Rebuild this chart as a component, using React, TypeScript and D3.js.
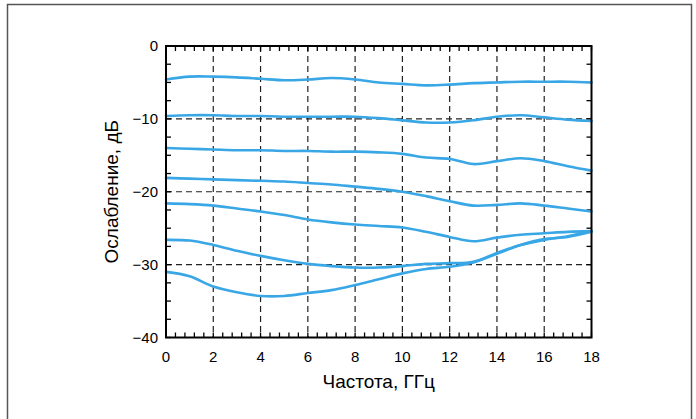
import React from "react";
import * as d3 from "d3";

const freqs = [0, 1, 2, 3, 4, 5, 6, 7, 8, 9, 10, 11, 12, 13, 14, 15, 16, 17, 18];
const curve1 = [-4.6, -4.2, -4.2, -4.3, -4.5, -4.7, -4.6, -4.4, -4.6, -5.0, -5.2, -5.4, -5.3, -5.1, -5.0, -4.9, -4.9, -4.9, -5.0];
const curve2 = [-9.6, -9.5, -9.5, -9.6, -9.6, -9.7, -9.7, -9.7, -9.7, -9.9, -10.2, -10.5, -10.5, -10.2, -9.7, -9.5, -9.8, -10.1, -10.3];
const curve3 = [-14.0, -14.1, -14.2, -14.3, -14.3, -14.4, -14.4, -14.5, -14.5, -14.6, -14.8, -15.3, -15.5, -16.2, -15.8, -15.4, -15.8, -16.5, -17.1];
const curve4 = [-18.1, -18.2, -18.3, -18.4, -18.5, -18.6, -18.8, -19.0, -19.3, -19.6, -20.0, -20.6, -21.3, -21.9, -21.8, -21.6, -21.9, -22.3, -22.7];
const curve5 = [-21.6, -21.7, -21.9, -22.3, -22.7, -23.2, -23.8, -24.2, -24.5, -24.7, -24.9, -25.5, -26.2, -26.8, -26.3, -25.9, -25.7, -25.5, -25.4];
const curve6 = [-26.6, -26.7, -27.3, -28.1, -28.8, -29.4, -29.9, -30.2, -30.4, -30.4, -30.2, -29.9, -29.8, -29.6, -28.4, -27.3, -26.6, -26.1, -25.4];
const curve7 = [-31.0, -31.6, -33.0, -33.8, -34.3, -34.3, -33.9, -33.5, -32.8, -32.0, -31.2, -30.6, -30.3, -29.7, -28.5, -27.3, -26.5, -26.2, -25.5];
const seriesList = [curve1, curve2, curve3, curve4, curve5, curve6, curve7];

const xTickLabels = [0, 2, 4, 6, 8, 10, 12, 14, 16, 18];
const yTickLabels = [0, -10, -20, -30, -40];
const xGrid = [2, 4, 6, 8, 10, 12, 14, 16];
const yGrid = [-10, -20, -30];

export default function App() {
  const W = 696, H = 419;
  const left = 166, right = 591.5, top = 46, bottom = 337.5;
  const x = d3.scaleLinear().domain([0, 18]).range([left, right]);
  const y = d3.scaleLinear().domain([0, -40]).range([top, bottom]);
  const line = d3
    .line<number>()
    .x((_, i) => x(freqs[i]))
    .y((d) => y(d))
    .curve(d3.curveCatmullRom.alpha(0.5));

  const xMinor = d3.range(0, 18.001, 0.4).map((v) => Math.round(v * 10) / 10);
  const yMinor = d3.range(0, -40.001, -2.5);
  const tl = 5;
  const font = "Liberation Sans, Arial, sans-serif";

  return (
    <svg width={W} height={H} style={{ position: "absolute", left: 0, top: 0 }}>
      <rect x={0} y={0} width={W} height={H} fill="white" />
      <rect x={7.5} y={4.5} width={684} height={440} fill="none" stroke="#555" strokeWidth={1.5} />
      {xGrid.map((v) => (
        <line key={"gx" + v} x1={x(v)} x2={x(v)} y1={top} y2={bottom} stroke="#222" strokeWidth={1.2} strokeDasharray="6,4" />
      ))}
      {yGrid.map((v) => (
        <line key={"gy" + v} x1={left} x2={right} y1={y(v)} y2={y(v)} stroke="#222" strokeWidth={1.2} strokeDasharray="6,4" />
      ))}
      {xMinor.map((v, i) => (
        <g key={"xm" + i}>
          <line x1={x(v)} x2={x(v)} y1={top} y2={top + tl} stroke="#000" strokeWidth={1.3} />
          <line x1={x(v)} x2={x(v)} y1={bottom} y2={bottom - tl} stroke="#000" strokeWidth={1.3} />
        </g>
      ))}
      {yMinor.map((v, i) => (
        <g key={"ym" + i}>
          <line x1={left} x2={left + tl} y1={y(v)} y2={y(v)} stroke="#000" strokeWidth={1.3} />
          <line x1={right} x2={right - tl} y1={y(v)} y2={y(v)} stroke="#000" strokeWidth={1.3} />
        </g>
      ))}
      {seriesList.map((s, i) => (
        <path key={"s" + i} d={line(s) || ""} fill="none" stroke="#39a7e6" strokeWidth={2.6} strokeLinecap="round" />
      ))}
      <rect x={left} y={top} width={right - left} height={bottom - top} fill="none" stroke="#000" strokeWidth={2} />
      {xTickLabels.map((v) => (
        <text key={"xl" + v} x={x(v)} y={bottom + 24} textAnchor="middle" fontFamily={font} fontSize={15} fill="#000">
          {v}
        </text>
      ))}
      {yTickLabels.map((v) => (
        <text key={"yl" + v} x={left - 8} y={y(v) + 5.3} textAnchor="end" fontFamily={font} fontSize={15} fill="#000">
          {v === 0 ? "0" : "\u2212" + Math.abs(v)}
        </text>
      ))}
      <text x={(left + right) / 2} y={388} textAnchor="middle" fontFamily={font} fontSize={19} fill="#000">
        Частота, ГГц
      </text>
      <text
        transform={`translate(118, ${(top + bottom) / 2}) rotate(-90)`}
        textAnchor="middle"
        fontFamily={font}
        fontSize={19}
        fill="#000"
      >
        Ослабление, дБ
      </text>
    </svg>
  );
}
